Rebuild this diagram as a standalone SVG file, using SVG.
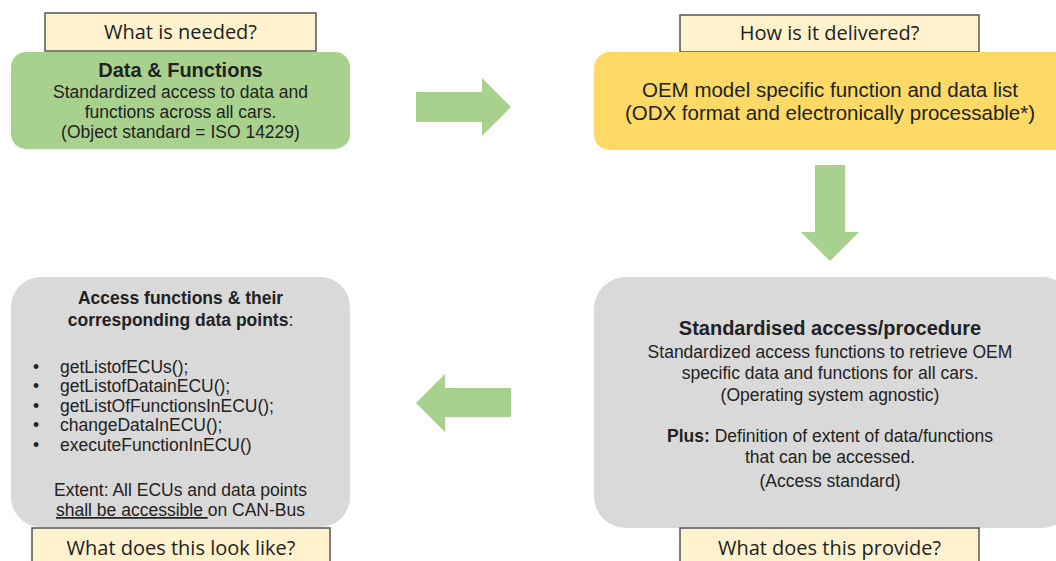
<svg xmlns="http://www.w3.org/2000/svg" width="1056" height="561" viewBox="0 0 1056 561">
<style>
.lbl{fill:#fff2cc;stroke:#555;stroke-width:1.5}
.lt{font-family:"Open Sans","Noto Sans",sans-serif;font-size:20px;fill:#222;text-anchor:middle}
.t{font-family:"Liberation Sans",Arial,sans-serif;font-size:17.5px;fill:#222;text-anchor:middle}
.tl{font-family:"Liberation Sans",Arial,sans-serif;font-size:17.5px;fill:#222}
.h{font-size:20px;font-weight:bold}
.big{font-size:20.5px}
.b{font-weight:bold}
.arr{fill:#a9d18e}
</style>
<rect width="1056" height="561" fill="#fff"/>
<g id="needed">
<rect class="lbl" x="45" y="13" width="271" height="38"/>
<text class="lt" x="180.5" y="39">What is needed?</text>
</g>
<g id="data-functions">
<rect x="11" y="52" width="339" height="97" rx="15" fill="#a9d18e"/>
<text class="t h" x="180.5" y="77">Data &amp; Functions</text>
<text class="t" x="180.5" y="98">Standardized access to data and</text>
<text class="t" x="180.5" y="118">functions across all cars.</text>
<text class="t" x="180.5" y="138">(Object standard = ISO 14229)</text>
</g>
<g id="delivered">
<rect class="lbl" x="680" y="15" width="299" height="37"/>
<text class="lt" x="829.5" y="40">How is it delivered?</text>
</g>
<g id="oem">
<rect x="594" y="52" width="476" height="98" rx="16" fill="#ffd966"/>
<text class="t big" x="830" y="97">OEM model specific function and data list</text>
<text class="t big" x="830" y="120">(ODX format and electronically processable*)</text>
</g>
<g id="access-std">
<rect x="594" y="277" width="480" height="251" rx="32" fill="#d9d9d9"/>
<text class="t h" x="830" y="335">Standardised access/procedure</text>
<text class="t" x="830" y="358">Standardized access functions to retrieve OEM</text>
<text class="t" x="830" y="379">specific data and functions for all cars.</text>
<text class="t" x="830" y="401">(Operating system agnostic)</text>
<text class="t" x="830" y="442"><tspan class="b">Plus:</tspan> Definition of extent of data/functions</text>
<text class="t" x="830" y="463">that can be accessed.</text>
<text class="t" x="830" y="487">(Access standard)</text>
</g>
<g id="provide">
<rect class="lbl" x="680" y="528" width="299" height="40"/>
<text class="lt" x="829.5" y="555">What does this provide?</text>
</g>
<g id="access-functions">
<rect x="11" y="277" width="339" height="250" rx="30" fill="#d9d9d9"/>
<text class="t b" x="180.5" y="304">Access functions &amp; their</text>
<text class="t" x="180.5" y="326"><tspan class="b">corresponding data points</tspan>:</text>
<g class="tl">
<text x="33" y="373">•</text><text x="60" y="373">getListofECUs();</text>
<text x="33" y="392">•</text><text x="60" y="392">getListofDatainECU();</text>
<text x="33" y="412">•</text><text x="60" y="412">getListOfFunctionsInECU();</text>
<text x="33" y="431">•</text><text x="60" y="431">changeDataInECU();</text>
<text x="33" y="451">•</text><text x="60" y="451">executeFunctionInECU()</text>
</g>
<text class="t" x="180.5" y="496">Extent: All ECUs and data points</text>
<text class="t" x="180.5" y="516"><tspan text-decoration="underline">shall be accessible </tspan>on CAN-Bus</text>
</g>
<g id="look-like">
<rect class="lbl" x="32" y="528" width="298" height="40"/>
<text class="lt" x="181" y="555">What does this look like?</text>
</g>
<g id="connectors">
<polygon class="arr" points="416,92 482,92 482,78 511,107 482,136 482,122 416,122"/>
<polygon class="arr" points="815,165 845,165 845,232 859,232 830,261 801,232 815,232"/>
<polygon class="arr" points="511,388 445,388 445,374 416,403 445,432 445,417 511,417"/>
</g>
</svg>
